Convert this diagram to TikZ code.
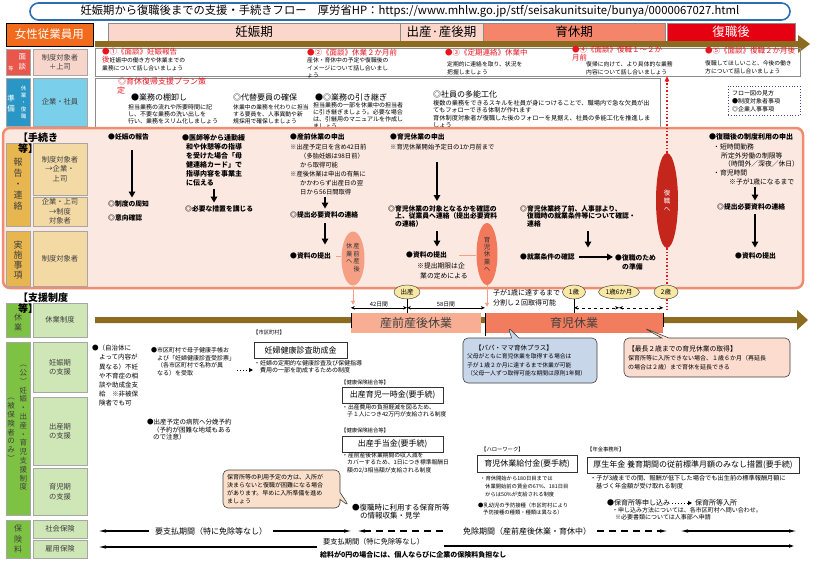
\documentclass[tikz,border=0pt]{standalone}
\usepackage{fontspec}
\setmainfont{Noto Sans CJK JP}
\usetikzlibrary{arrows.meta,shapes.geometric,shapes.callouts,positioning}
\definecolor{titleblue}{HTML}{2E6DB4}
\definecolor{womenorange}{HTML}{F26A1B}
\definecolor{phasepink}{HTML}{FBD7CB}
\definecolor{phasesalmon}{HTML}{F4856A}
\definecolor{phasered}{HTML}{E50012}
\definecolor{flowbrown}{HTML}{8A6B1F}
\definecolor{mendanred}{HTML}{E9564B}
\definecolor{mendanpink}{HTML}{F8D5CB}
\definecolor{junbiblue}{HTML}{2A96C5}
\definecolor{junbicyan}{HTML}{7ACFEA}
\definecolor{procline}{HTML}{F08C70}
\definecolor{procfill}{HTML}{FBE8E1}
\definecolor{procgold}{HTML}{E7B64E}
\definecolor{proctan}{HTML}{F3DAA5}
\definecolor{supgreen}{HTML}{7EC244}
\definecolor{suplight}{HTML}{CFE6B6}
\definecolor{leavelight}{HTML}{F8AE92}
\definecolor{leavedark}{HTML}{F27C5E}
\definecolor{ovalsalmon}{HTML}{F59F85}
\definecolor{ovalorange}{HTML}{F2795B}
\definecolor{ovalred}{HTML}{C4261C}
\definecolor{ageyellow}{HTML}{F8E8A4}
\definecolor{notered}{HTML}{E8141E}
\definecolor{legendblue}{HTML}{3B4A8C}
\definecolor{bubbleblue}{HTML}{C8D6EA}
\definecolor{bubblepink}{HTML}{FCDCCF}
\definecolor{bubblepeach}{HTML}{FADFCB}
\tikzset{
  titlebox/.style={draw=titleblue,line width=1.6pt,rounded corners=8.5pt,minimum width=760pt,minimum height=17pt,inner sep=0pt,font=\fontsize{11.3}{12}\selectfont},
  phasebox/.style={draw=black!45,line width=.5pt,minimum height=18pt,inner sep=0pt,font=\fontsize{12.5}{13}\selectfont},
  sidecol/.style={draw=black!35,line width=.5pt,minimum width=24pt,inner sep=0pt},
  rowcell/.style={draw=black!35,line width=.5pt,minimum width=54pt,inner sep=0pt,align=center,text=black!75,font=\fontsize{7.3}{9.5}\selectfont},
  vtext/.style={inner sep=0pt,align=center},
  panel/.style={draw=black!45,line width=.6pt,inner sep=0pt},
  redhead/.style={anchor=west,inner sep=0pt,text=notered,font=\fontsize{7.5}{8}\selectfont},
  memo/.style={anchor=north west,inner sep=0pt,align=left,font=\fontsize{5.8}{7.5}\selectfont},
  taskhead/.style={anchor=west,inner sep=0pt,font=\fontsize{8}{9}\selectfont},
  procb/.style={anchor=west,inner sep=0pt,font=\bfseries\fontsize{6.8}{8}\selectfont},
  procn/.style={anchor=north west,inner sep=0pt,align=left,font=\fontsize{6.3}{9}\selectfont},
  flowarrow/.style={line width=1.6pt,-{Triangle[length=6pt,width=6.5pt]}},
  oval/.style={ellipse,inner sep=0pt,align=center},
  leave/.style={minimum height=20pt,inner sep=0pt,text=black!75,font=\fontsize{12}{13}\selectfont},
  age/.style={ellipse,draw=black!70,line width=.5pt,fill=ageyellow,minimum height=14pt,inner sep=0pt,font=\fontsize{6.5}{7}\selectfont},
  spanarrow/.style={line width=.6pt,{Stealth[length=4pt,width=3.5pt]}-{Stealth[length=4pt,width=3.5pt]}},
  bubble/.style={rectangle callout,draw=black!75,line width=.6pt,rounded corners=5pt,align=left,inner sep=4pt,font=\fontsize{5.8}{8.5}\selectfont},
  sectionhd/.style={anchor=north west,inner sep=0pt,align=left,font=\bfseries\fontsize{10}{11}\selectfont},
  suplbl/.style={anchor=west,inner sep=0pt,font=\fontsize{5.3}{6}\selectfont},
  supbox/.style={draw=black!80,line width=.7pt,minimum height=16pt,inner sep=0pt,font=\fontsize{8}{9}\selectfont},
  dotarrow/.style={line width=1pt,dotted,-{Triangle[length=4pt,width=4pt]}},
  paytext/.style={anchor=west,inner sep=0pt,font=\fontsize{8}{9}\selectfont},
  insarrow/.style={line width=1.1pt,-{Latex[length=8pt,width=3.5pt]}},
  insboth/.style={line width=1.1pt,{Latex[length=8pt,width=3.5pt]}-{Latex[length=8pt,width=3.5pt]}}
}
\begin{document}
\begin{tikzpicture}[x=1pt,y=-1pt]
\useasboundingbox[fill=white] (0,0) rectangle (823,562);
\node[titlebox] (title) at (410,11.5) {妊娠期から復職後までの支援・手続きフロー\quad 厚労省HP：https://www.mhlw.go.jp/stf/seisakunitsuite/bunya/0000067027.html};
\node[phasebox,fill=womenorange,draw=black,text=white,minimum width=87pt,minimum height=23pt,font=\fontsize{11.5}{12}\selectfont] (women) at (49.5,34.5) {女性従業員用};
\node[phasebox,fill=phasepink,minimum width=292pt] (pregnancy) at (254,32) {妊娠期};
\node[phasebox,fill=phasepink,minimum width=83pt] (birthphase) at (441.5,32) {出産·産後期};
\node[phasebox,fill=phasesalmon,minimum width=182pt] (carephase) at (574,32) {育休期};
\node[phasebox,fill=phasered,text=white,minimum width=128pt] (returnphase) at (731,32) {復職後};
\fill[flowbrown] (95,41)--(798,41)--(798,35)--(810,44)--(798,53)--(798,47)--(95,47)--cycle;

\node[sidecol,fill=mendanred,minimum height=26pt] (mendanL) at (18,62) {};
\node[vtext,text=white,font=\fontsize{7.5}{10}\selectfont] (mendanV) at (22.5,62) {面\\談};
\node[vtext,text=white,font=\fontsize{5}{6}\selectfont] (mendanS) at (11,69) {等};
\node[rowcell,fill=mendanpink,minimum height=26pt] (mendanR) at (60,62) {制度対象者\\＋上司};
\node[panel,minimum width=705pt,minimum height=28pt] (mendanC) at (447.5,62) {};
\node[redhead] (m1) at (102,51.5) {●①《面談》妊娠報告};
\node[redhead] (m1b) at (102,60) {後};
\node[memo,anchor=west] (m1t) at (109.5,60) {妊娠中の働き方や休業までの};
\node[memo,anchor=west] (m1u) at (102,68) {業務について話し合いましょう};
\node[redhead] (m2) at (307,52.5) {●②《面談》休業２か月前};
\node[memo] (m2t) at (307,57.5) {産休・育休中の予定や復職後の\\イメージについて話し合いまし\\ょう};
\node[redhead] (m3) at (445,53) {●③《定期連絡》休業中};
\node[memo] (m3t) at (447,61.5) {定期的に連絡を取り、状況を\\把握しましょう};
\node[redhead] (m4) at (572,50) {●④《面談》復職１～２か};
\node[redhead] (m4b) at (572,58) {月前};
\node[memo] (m4t) at (586,61.5) {復帰に向けて、より具体的な業務\\内容について話し合いましょう};
\node[redhead] (m5) at (705,51) {●⑤《面談》復職２か月後};
\node[memo] (m5t) at (705,60.5) {復職してほしいこと、今後の働き\\方について話し合いましょう};

\node[sidecol,fill=junbiblue,minimum height=48pt] (junbiL) at (18,102) {};
\node[vtext,text=white,font=\fontsize{5.5}{7}\selectfont] (junbiV) at (23.5,102) {休\\業\\・\\復\\職};
\node[vtext,text=white,font=\fontsize{7.5}{10}\selectfont] (junbiS) at (11,104) {準\\備};
\node[rowcell,fill=junbicyan,minimum height=48pt] (junbiR) at (60,102) {企業・社員};
\node[panel,minimum width=565pt,minimum height=49pt] (junbiC) at (377.5,102.5) {};
\node[redhead,font=\fontsize{8}{9}\selectfont] (plan) at (118,81) {◎育休復帰支援プラン策};
\node[redhead,font=\fontsize{8}{9}\selectfont] (planb) at (117,90) {定};
\node[taskhead] (j1) at (131,97.5) {●業務の棚卸し};
\node[memo,font=\fontsize{6}{7.3}\selectfont] (j1t) at (128,104) {担当業務の流れや所要時間に記\\し、不要な業務の洗い出しを\\行い、業務をスリム化しましょう};
\node[taskhead] (j2) at (233,97.5) {◎代替要員の確保};
\node[memo,font=\fontsize{5.8}{7.3}\selectfont] (j2t) at (233,104) {休業中の業務を代わりに担当\\する要員を、人事異動や新\\規採用で確保しましょう};
\node[taskhead] (j3) at (315,97) {●◎業務の引き継ぎ};
\node[memo,font=\fontsize{6}{6.8}\selectfont] (j3t) at (313,102.5) {担当業務の一部を休業中の担当者\\に引き継ぎましょう。必要な場合\\は、引継用のマニュアルを作成し\\ましょう};
\node[taskhead] (j4) at (433,94.5) {◎社員の多能工化};
\node[memo,font=\fontsize{6.2}{7.3}\selectfont] (j4t) at (433,100.2) {複数の業務をできるスキルを社員が身につけることで、職場内で急な欠員が出\\てもフォローできる体制が作れます\\育休制度対象者が復職した後のフォローを見据え、社員の多能工化を推進しま\\しょう};
\node[draw=legendblue,dotted,line width=.8pt,text width=64pt,inner sep=4pt,minimum height=28pt,align=left,font=\fontsize{6}{8}\selectfont] (legend) at (764,101) {フロー図の見方\\●制度対象者事項\\◎企業人事事項};

\node[draw=procline,line width=2.5pt,fill=procfill,rounded corners=7pt,minimum width=800pt,minimum height=160pt] (procframe) at (403,208) {};
\node[sidecol,fill=procgold,minimum height=83pt] (hokoku) at (18,184.5) {};
\node[vtext,text=black!75,font=\fontsize{9}{11}\selectfont] (hokokuV) at (18,184) {報\\告\\・\\連\\絡};
\node[rowcell,fill=proctan,minimum height=52pt] (toCompany) at (60,169) {制度対象者\\→企業・\\上司};
\node[rowcell,fill=proctan,minimum height=29pt] (toStaff) at (60,211.5) {企業・上司\\→制度\\対象者};
\node[sidecol,fill=procgold,minimum height=55pt] (jisshi) at (18,258.5) {};
\node[vtext,text=black!75,font=\fontsize{9}{10}\selectfont] (jisshiV) at (18,260) {実\\施\\事\\項};
\node[rowcell,fill=proctan,minimum height=55pt] (jisshiR) at (60,258.5) {制度対象者};
\node[sectionhd] (procHd) at (18,132.5) {【手続き\\等】};

\node[procb] (c1a) at (108,137) {●妊娠の報告};
\node[procb] (c1b) at (108,204) {◎制度の周知};
\node[procb] (c1c) at (108,218) {◎意向確認};
\draw[flowarrow,shorten <=10pt,shorten >=3pt] ([xshift=24pt]c1a.south west) -- ([xshift=24pt]c1a.south west |- c1b.north);

\node[procn,font=\bfseries\fontsize{7}{9}\selectfont] (c2a) at (182,133.8) {●医師等から通勤緩\\\hspace*{4pt}和や休憩等の指導\\\hspace*{4pt}を受けた場合「母\\\hspace*{4pt}健連絡カード」で\\\hspace*{4pt}指導内容を事業主\\\hspace*{4pt}に伝える};
\node[procb] (c2b) at (185,209) {◎必要な措置を講じる};
\draw[flowarrow,shorten <=3pt,shorten >=3pt] ([xshift=32pt]c2a.south west) -- ([xshift=32pt]c2a.south west |- c2b.north);

\node[procb] (c3a) at (290,137) {●産前休業の申出};
\node[procn] (c3b) at (290,144.2) {※出産予定日を含め42日前\\\hspace*{10pt}（多胎妊娠は98日前）\\\hspace*{10pt}から取得可能\\※産後休業は申出の有無に\\\hspace*{10pt}かかわらず出産日の翌\\\hspace*{10pt}日から56日間取得};
\node[procb] (c3c) at (290,215) {◎提出必要資料の連絡};
\node[procb] (c3d) at (290,256) {●資料の提出};
\draw[flowarrow,shorten <=2pt,shorten >=3pt] ([xshift=35pt]c3b.south west) -- ([xshift=35pt]c3b.south west |- c3c.north);
\draw[flowarrow,shorten <=5pt,shorten >=8pt] ([xshift=35pt]c3c.south west) -- ([xshift=35pt]c3c.south west |- c3d.north);

\node[procb] (c4a) at (390,137) {●育児休業の申出};
\node[procn,anchor=west] (c4b) at (390,147) {※育児休業開始予定日の1か月前まで};
\node[procn,font=\bfseries\fontsize{6.8}{7.7}\selectfont] (c4c) at (388,205) {◎育児休業の対象となるかを確認の\\\hspace*{7pt}上、従業員へ連絡（提出必要資料\\\hspace*{7pt}の連絡）};
\node[procb] (c4d) at (406,255) {●資料の提出};
\node[procn,font=\fontsize{6.8}{10}\selectfont] (c4e) at (417,263) {※提出期限は企\\\hspace*{3pt}業の定めによる};
\draw[flowarrow,shorten <=12pt,shorten >=4pt] ([xshift=47pt]c4b.south west) -- ([xshift=47pt]c4b.south west |- c4c.north);
\draw[flowarrow,shorten <=4pt,shorten >=5pt] ([xshift=49pt]c4c.south west) -- ([xshift=49pt]c4c.south west |- c4d.north);

\node[procn,font=\bfseries\fontsize{6.8}{7.7}\selectfont] (c5a) at (520,205) {◎育児休業終了前、人事部より、\\\hspace*{7pt}復職時の就業条件等について確認・\\\hspace*{7pt}連絡};
\node[procb] (c5b) at (520,257) {●就業条件の確認};
\node[procn,font=\bfseries\fontsize{6.8}{9}\selectfont] (c5c) at (615,254) {●復職のため\\\hspace*{7pt}の準備};
\draw[flowarrow,shorten <=4pt,shorten >=6pt] ([xshift=68pt]c5a.south west) -- ([xshift=68pt]c5a.south west |- c5b.north);
\draw[flowarrow,shorten <=4pt,shorten >=2pt] (c5b.east) -- (c5b.east -| c5c.west);

\node[procb,font=\bfseries\fontsize{7}{8}\selectfont] (c6a) at (709,137) {●復職後の制度利用の申出};
\node[procn,font=\fontsize{6.8}{8.7}\selectfont] (c6b) at (713,143.5) {・短時間勤務\\\hspace*{8pt}所定外労働の制限等\\\hspace*{11pt}（時間外／深夜／休日）\\・育児時間\\\hspace*{16pt}※子が1歳になるまで};
\node[procb] (c6c) at (717,207) {◎提出必要資料の連絡};
\node[procb] (c6d) at (735,256) {●資料の提出};
\draw[flowarrow,shorten <=2pt,shorten >=3pt] ([xshift=42pt]c6b.south west) -- ([xshift=42pt]c6b.south west |- c6c.north);
\draw[flowarrow,shorten <=4pt,shorten >=5pt] ([xshift=38pt]c6c.south west) -- ([xshift=38pt]c6c.south west |- c6d.north);

\node[oval,fill=ovalsalmon,minimum width=23pt,minimum height=54pt,text=black!80,font=\fontsize{6.3}{7}\selectfont] (ovalA) at (353,258.5) {\begin{tabular}{@{}c@{\hspace{1pt}}c@{}}休&産\\業&前\\へ&産\\&後\end{tabular}};
\node[oval,fill=ovalorange,minimum width=21pt,minimum height=62pt,text=black!80,font=\fontsize{6.5}{7.3}\selectfont] (ovalB) at (487,254) {育\\児\\休\\業\\へ};
\node[oval,fill=ovalred,minimum width=22pt,minimum height=95pt,text=white,font=\fontsize{6.5}{8}\selectfont] (ovalC) at (667,200.5) {復\\職\\へ};
\draw[ovalsalmon,line width=1pt,shorten <=5pt] (c3d.east) -- (c3d.east -| ovalA.west);
\draw[ovalsalmon,line width=1pt,shorten <=12pt] (c4d.east) -- (c4d.east -| ovalB.west);
\draw[notered,dotted,line width=1.4pt,-{Triangle[length=5pt,width=4.5pt]}] (ovalC.north) -- (ovalC.north |- mendanC.south);

\fill[flowbrown] (95,317)--(797,317)--(797,310)--(808,320)--(797,330)--(797,323)--(95,323)--cycle;
\node[leave,fill=leavelight,minimum width=130pt] (leaveA) at (416,323) {産前産後休業};
\node[leave,fill=leavedark,minimum width=178pt] (leaveB) at (574,323) {育児休業};
\draw[ovalsalmon,line width=1pt,-{Triangle[length=4pt,width=4pt]},shorten >=8pt] (ovalA.south) -- (ovalA.south |- leaveA.north);
\draw[ovalsalmon,line width=1pt,-{Triangle[length=4pt,width=4pt]},shorten >=6pt] (ovalB.south) -- (ovalB.south |- leaveB.north);
\draw[notered,dotted,line width=1.4pt,shorten >=3pt] (ovalC.south) -- (ovalC.south |- leaveB.north);
\node[age,minimum width=26pt] (birth) at (407,292) {出産};
\node[age,minimum width=23pt] (age1) at (574,292) {1歳};
\node[age,minimum width=41pt] (age15) at (619,292) {1歳6か月};
\node[age,minimum width=24pt] (age2) at (666,292) {2歳};
\draw[line width=.6pt] (leaveA.north west) -- ++(0,-15pt);
\draw[line width=.6pt] (birth.south) -- (birth.south |- leaveA.north);
\draw[line width=.6pt] (leaveB.north west) -- ++(0,-23pt);
\draw[line width=.6pt] (age1.south) -- (age1.south |- leaveB.north);
\draw[line width=.6pt] (leaveB.north east) -- ++(0,-14pt);
\draw[spanarrow] ([yshift=5pt]leaveA.north west) -- ([yshift=5pt]leaveA.north west -| birth.south) node[midway,above=1pt,inner sep=0pt,font=\fontsize{5.8}{6}\selectfont] (d42) {42日間};
\draw[spanarrow] ([yshift=5pt]leaveA.north west -| birth.south) -- ([yshift=5pt]leaveB.north west) node[midway,above=1pt,inner sep=0pt,font=\fontsize{5.8}{6}\selectfont] (d58) {58日間};
\draw[spanarrow,dashed] ([yshift=5pt]age1.south |- leaveB.north) -- ([yshift=5pt]age15.south |- leaveB.north);
\draw[spanarrow,dashed] ([yshift=5pt]age15.south |- leaveB.north) -- ([yshift=5pt]leaveB.north east);
\node[procn,font=\fontsize{7}{9.5}\selectfont] (split) at (493,289.8) {子が1歳に達するまで\\分割し２回取得可能};

\node[bubble,fill=bubbleblue,minimum width=134pt,minimum height=45pt,text width=126pt,callout absolute pointer={(508,327)}] (papa) at (530,360.5) {\hspace*{8pt}{\fontsize{6.5}{8.5}\selectfont【パパ・ママ育休プラス】}\\父母がともに育児休業を取得する場合は\\子が１歳２か月に達するまで休業が可能\\（父母一人ずつ取得可能な期間は原則1年間）};
\node[bubble,fill=bubblepink,minimum width=166pt,minimum height=39pt,text width=158pt,font=\fontsize{6}{9}\selectfont,callout absolute pointer={(644,328)}] (max2) at (707,357.5) {{\fontsize{6.8}{9}\selectfont【最長２歳までの育児休業の取得】}\\保育所等に入所できない場合、１歳６か月（再延長\\の場合は２歳）まで育休を延長できる};

\node[sidecol,fill=supgreen,minimum height=34pt] (kyugyoL) at (18,320) {};
\node[vtext,text=black!75,font=\fontsize{8}{10}\selectfont] (kyugyoV) at (18,322) {休\\業};
\node[rowcell,fill=suplight,minimum height=34pt] (kyugyoR) at (60,320) {休業制度};
\node[sectionhd] (supportHd) at (18,292.5) {【支援制度\\等】};

\node[sidecol,fill=supgreen,minimum height=173pt] (koL) at (18,428.5) {};
\node[vtext,text=black!75,font=\fontsize{7.5}{8.8}\selectfont] (koV1) at (23.5,428) {︵\\公\\︶\\妊\\娠\\・\\出\\産\\・\\育\\児\\支\\援\\制\\度};
\node[vtext,text=black!75,font=\fontsize{7.5}{8.8}\selectfont] (koV2) at (11,430) {︵\\被\\保\\険\\者\\の\\み\\︶};
\node[rowcell,fill=suplight,minimum height=50pt] (ninshinS) at (60,367) {妊娠期\\の支援};
\node[rowcell,fill=suplight,minimum height=68pt] (shussanS) at (60,431) {出産期\\の支援};
\node[rowcell,fill=suplight,minimum height=47pt] (ikujiS) at (60,491.5) {育児期\\の支援};
\node[sidecol,fill=supgreen,minimum height=38pt] (hokenL) at (18,539) {};
\node[vtext,text=black!75,font=\fontsize{8}{10.5}\selectfont] (hokenV) at (18,539) {保\\険\\料};
\node[rowcell,fill=suplight,minimum height=18pt] (shakai) at (60,529) {社会保険};
\node[rowcell,fill=suplight,minimum height=18pt] (koyo) at (60,549) {雇用保険};

\node[procn,font=\fontsize{6.5}{9.2}\selectfont] (t1) at (92,345) {●（自治体に\\\hspace*{7pt}よって内容が\\\hspace*{7pt}異なる）不妊\\\hspace*{7pt}や不育症の相\\\hspace*{7pt}談や助成金支\\\hspace*{7pt}給　※非被保\\\hspace*{7pt}険者でも可};
\node[procn,font=\fontsize{6}{7.5}\selectfont] (t2) at (151,347.3) {●市区町村で母子健康手帳お\\\hspace*{6pt}よび「妊婦健康診査受診票」\\\hspace*{6pt}（各市区町村で名称が異\\\hspace*{6pt}なる）を受取};
\coordinate (t2arrow) at (253,370);
\draw[dotarrow,shorten <=2pt] (t2arrow -| t2.east) -- (t2arrow);
\node[suplbl] (kenshinLbl) at (253,332) {【市区町村】};
\node[supbox,minimum width=93pt] (kenshin) at (300.5,350) {妊婦健康診査助成金};
\node[procn,font=\fontsize{6}{7.3}\selectfont] (kenshinT) at (254,360.3) {・妊婦の定期的な健康診査及び保健指導\\\hspace*{6pt}費用の一部を助成するための制度};
\node[suplbl] (ichijiLbl) at (341,382) {【健康保険組合等】};
\node[supbox,minimum width=101pt] (ichiji) at (392.5,395) {出産育児一時金(要手続)};
\node[procn,font=\fontsize{5.8}{6.8}\selectfont] (ichijiT) at (342,404.8) {・出産費用の負担軽減を図るため、\\\hspace*{5pt}子１人につき42万円が支給される制度};
\node[procn,font=\fontsize{6.5}{7.3}\selectfont] (t3) at (147,419.2) {●出産予定の病院へ分娩予約\\\hspace*{6pt}（予約が困難な地域もある\\\hspace*{6pt}ので注意）};
\node[suplbl] (teateLbl) at (341,430) {【健康保険組合等】};
\node[supbox,minimum width=101pt] (teate) at (392.5,444) {出産手当金(要手続)};
\node[procn,font=\fontsize{5.8}{7.3}\selectfont] (teateT) at (342,452.4) {・産前産後休業期間の収入減を\\\hspace*{5pt}カバーするため、1日につき標準報酬日\\\hspace*{5pt}額の2/3相当額が支給される制度};
\node[suplbl] (kyufuLbl) at (481,449) {【ハローワーク】};
\node[supbox,minimum width=100pt,minimum height=17pt] (kyufu) at (527,463.5) {育児休業給付金(要手続)};
\node[procn,font=\fontsize{5.3}{8.3}\selectfont] (kyufuT) at (480,475.6) {・育休開始から180日目までは\\\hspace*{5pt}休業開始前の賃金の67\%、181日目\\\hspace*{5pt}からは50\%が支給される制度};
\node[procn,font=\fontsize{5.3}{7.5}\selectfont] (yobo) at (478,502.6) {●乳幼児の予防接種（市区町村により\\\hspace*{5pt}予防接種の種類・種類は異なる）};
\node[suplbl] (nenkinLbl) at (587,449) {【年金事務所】};
\node[supbox,minimum width=212pt] (nenkin) at (693,465) {厚生年金 養育期間の従前標準月額のみなし措置(要手続)};
\node[procn,font=\fontsize{6.2}{7.5}\selectfont] (nenkinT) at (590,475.3) {・子が3歳までの間、報酬が低下した場合でも出生前の標準報酬月額に\\\hspace*{6pt}基づく年金額が受け取れる制度};
\node[procn,anchor=west,font=\fontsize{7}{8}\selectfont] (hoikuA) at (607,503) {●保育所等申し込み};
\node[procn,anchor=west,font=\fontsize{7}{8}\selectfont] (hoikuB) at (695,503) {保育所等入所};
\draw[dotarrow,shorten <=2pt,shorten >=3pt] (hoikuA.east) -- (hoikuB.west);
\node[procn,font=\fontsize{6}{6.5}\selectfont] (hoikuT) at (612,507.5) {・申し込み方法については、各市区町村へ問い合わせ。\\\hspace*{3pt}※必要書類については人事部へ申請};
\node[procn,font=\fontsize{7.5}{8.5}\selectfont] (fukushokuT) at (352,503.6) {●復職時に利用する保育所等\\\hspace*{8pt}の情報収集・見学};
\node[bubble,fill=bubblepeach,minimum width=117pt,minimum height=38pt,text width=109pt,font=\fontsize{6}{8}\selectfont,callout absolute pointer={(349,506)}] (hoiku) at (281.5,489) {保育所等の利用予定の方は、入所が\\決まらないと復職が困難になる場合\\があります。早めに入所準備を進め\\ましょう};

\coordinate (socL) at (98,531);
\coordinate (socM) at (352,531);
\coordinate (socN) at (357,531);
\coordinate (socR) at (668,531);
\coordinate (postL) at (680,531);
\coordinate (postR) at (797,531);
\node[paytext] (socPay) at (155,531) {要支払期間（特に免除等なし）};
\node[paytext] (socFree) at (463,531) {免除期間（産前産後休業・育休中）};
\draw[insarrow] ([xshift=-6pt]socPay.west) -- (socL);
\draw[insarrow] ([xshift=6pt]socPay.east) -- (socM);
\draw[insarrow,dash pattern=on 7pt off 5pt] ([xshift=-20pt]socFree.west) -- (socN);
\draw[insarrow,dash pattern=on 7pt off 5pt] ([xshift=6pt]socFree.east) -- (socR);
\draw[insboth] (postL) -- (postR);
\coordinate (empL) at (98,547);
\coordinate (empR) at (797,546);
\node[paytext,font=\fontsize{7.2}{8}\selectfont] (empPay) at (323,542) {要支払期間（特に免除等なし）};
\draw[insarrow] ([xshift=-6pt]empPay.west |- empL) -- (empL);
\draw[insarrow,line width=1.6pt] ([xshift=20pt]empPay.east |- empR) -- (empR);
\node[paytext,font=\bfseries\fontsize{7}{8}\selectfont] (empZero) at (320,555) {給料が0円の場合には、個人ならびに企業の保険料負担なし};
\end{tikzpicture}
\end{document}
